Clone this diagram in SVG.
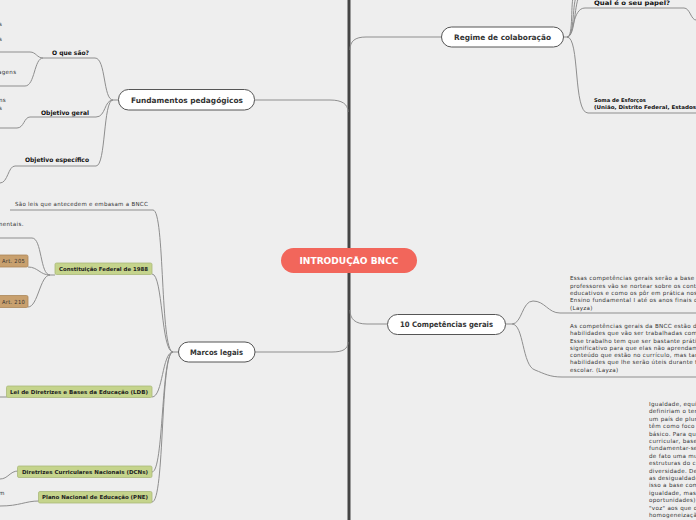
<svg xmlns="http://www.w3.org/2000/svg" width="696" height="520" viewBox="0 0 696 520">
<style>
.bg{fill:#eeeeee}
.c{fill:none;stroke:#8e8e8e;stroke-width:1}
.pill{fill:#ffffff;stroke:#555555;stroke-width:1}
.pt{font-family:"DejaVu Sans",Verdana,sans-serif;font-weight:bold;font-size:7.5px;fill:#333333;text-anchor:middle}
.sub{font-family:"DejaVu Sans",Verdana,sans-serif;font-weight:bold;font-size:6.2px;fill:#111111}
.sm{font-family:"DejaVu Sans",Verdana,sans-serif;font-size:5.6px;letter-spacing:0.3px;fill:#333333}
.smb{font-family:"DejaVu Sans",Verdana,sans-serif;font-weight:bold;font-size:5.2px;fill:#111111}
.gbox{fill:#c5d48c;stroke:#a9b97a;stroke-width:0.8}
.gt{font-family:"DejaVu Sans",Verdana,sans-serif;font-weight:bold;font-size:5.4px;fill:#222222}
.tbox{fill:#c8a06e;stroke:#ab8658;stroke-width:0.8}
</style>
<rect class="bg" x="0" y="0" width="696" height="520"/>
<rect x="347.5" y="0" width="3" height="520" fill="#444444"/>
<g id="connectors">
<path class="c" d="M255,100 L330,100 C342,100 348,104 348,112"/>
<path class="c" d="M255,352 L332,352 C343,352 348,349 348,342"/>
<path class="c" d="M350,50 C350,41 355,37 366,37 L441,37"/>
<path class="c" d="M350,310 C350,319 355,324 367,324 L387,324"/>
<path class="c" d="M118,100 L113,100 C103,100 106,58 95,58 L43,58"/>
<path class="c" d="M113,100 C104,100 106,117 96,117 L30,117"/>
<path class="c" d="M113,100 C103,100 106,166 96,166 L15,166"/>
<path class="c" d="M43,58 C37,58 36,52 30,52 L0,52"/>
<path class="c" d="M43,58 C34,58 35,86 25,86 L0,86"/>
<path class="c" d="M30,117 C24,117 24,128 17,128 L0,128"/>
<path class="c" d="M15,166 C8,166 8,183 0,183"/>
<path class="c" d="M178,352 L173,352 C160,352 165,210 153,210 L10,210"/>
<path class="c" d="M173,352 C161,352 163,274 152,274"/>
<path class="c" d="M173,352 C162,352 163,397 152,397"/>
<path class="c" d="M173,352 C161,352 164,472 152,472"/>
<path class="c" d="M173,352 C160,352 165,502 152,502"/>
<path class="c" d="M55,275 L50,275 C40,275 42,238 32,238 L0,238"/>
<path class="c" d="M50,275 C40,275 38,267 28,267"/>
<path class="c" d="M50,275 C40,275 38,307 28,307"/>
<path class="c" d="M7,397 L0,397"/>
<path class="c" d="M18,471 C10,471 8,479 0,479"/>
<path class="c" d="M39,501 C25,501 20,506 0,506"/>
<path class="c" d="M564,37 L567,37 C574,37 572,8 585,8 L684,8 C690,8 691,20 696,20"/>
<path class="c" d="M567,37 C574,37 570,0 574,-4"/>
<path class="c" d="M567,37 C575,37 572,0 577,-4"/>
<path class="c" d="M567,37 C576,37 574,0 580,-4"/>
<path class="c" d="M567,37 C580,37 573,113 588,113 L696,113"/>
<path class="c" d="M506,324 L512,324 C522,324 522,301 533,301 C545,301 548,313 560,313 L696,313"/>
<path class="c" d="M512,324 C524,324 522,366 535,370 C545,374 550,377 562,377 L696,377"/>
</g>
<g id="n-center">
<rect x="281" y="248" width="136" height="25" rx="12.5" fill="#f2665b"/>
<text x="349" y="264" font-family="DejaVu Sans,Verdana,sans-serif" font-weight="bold" font-size="8.5" fill="#ffffff" text-anchor="middle" textLength="99" lengthAdjust="spacingAndGlyphs">INTRODUÇÃO BNCC</text>
</g>
<g id="n-fundamentos">
<rect class="pill" x="118.5" y="89.5" width="136" height="20.5" rx="10"/>
<text class="pt" x="187" y="102.7" textLength="112" lengthAdjust="spacingAndGlyphs">Fundamentos pedagógicos</text>
</g>
<g id="n-marcos">
<rect class="pill" x="178.5" y="342" width="76.5" height="20" rx="10"/>
<text class="pt" x="216.5" y="354.7" textLength="53" lengthAdjust="spacingAndGlyphs">Marcos legais</text>
</g>
<g id="n-regime">
<rect class="pill" x="441.5" y="27" width="122" height="20" rx="10"/>
<text class="pt" x="502.5" y="39.7" textLength="97" lengthAdjust="spacingAndGlyphs">Regime de colaboração</text>
</g>
<g id="n-competencias">
<rect class="pill" x="387.5" y="314.5" width="118" height="20" rx="10"/>
<text class="pt" x="446.5" y="327" textLength="93" lengthAdjust="spacingAndGlyphs">10 Competências gerais</text>
</g>
<g id="n-oquesao"><text class="sub" x="52" y="54.5" textLength="37" lengthAdjust="spacingAndGlyphs">O que são?</text></g>
<g id="n-objgeral"><text class="sub" x="41" y="114.5" textLength="48" lengthAdjust="spacingAndGlyphs">Objetivo geral</text></g>
<g id="n-objesp"><text class="sub" x="25" y="161.5" textLength="64" lengthAdjust="spacingAndGlyphs">Objetivo específico</text></g>
<g id="n-frag">
<text class="sm" x="-1" y="26">s</text>
<text class="sm" x="-1" y="41">s</text>
<text class="sm" x="-2" y="74">agens</text>
<text class="sm" x="-1" y="102">ns</text>
<text class="sm" x="-1" y="110">s</text>
<text class="sm" x="-3" y="226">mentais.</text>
<text class="sm" x="-1" y="495">m</text>
</g>
<g id="n-saoleis"><text class="sm" x="15" y="206" textLength="133" lengthAdjust="spacingAndGlyphs">São leis que antecedem e embasam a BNCC</text></g>
<g id="n-cf88">
<rect class="gbox" x="55" y="263" width="97" height="11.5" rx="1.5"/>
<text class="gt" x="59" y="270.7" textLength="89" lengthAdjust="spacingAndGlyphs">Constituição Federal de 1988</text>
</g>
<g id="n-art205">
<rect class="tbox" x="-3" y="255" width="31" height="12" rx="1.5"/>
<text class="sm" x="2" y="263" textLength="23" lengthAdjust="spacingAndGlyphs">Art. 205</text>
</g>
<g id="n-art210">
<rect class="tbox" x="-3" y="295.5" width="31" height="12" rx="1.5"/>
<text class="sm" x="2" y="303.5" textLength="23" lengthAdjust="spacingAndGlyphs">Art. 210</text>
</g>
<g id="n-ldb">
<rect class="gbox" x="6.5" y="386" width="145.5" height="11.5" rx="1.5"/>
<text class="gt" x="10" y="393.7" textLength="138" lengthAdjust="spacingAndGlyphs">Lei de Diretrizes  e Bases da Educação (LDB)</text>
</g>
<g id="n-dcn">
<rect class="gbox" x="17.5" y="466" width="134.5" height="11.5" rx="1.5"/>
<text class="gt" x="22" y="473.7" textLength="126" lengthAdjust="spacingAndGlyphs">Diretrizes Curriculares Nacionais (DCNs)</text>
</g>
<g id="n-pne">
<rect class="gbox" x="38.5" y="491.5" width="113.5" height="11.5" rx="1.5"/>
<text class="gt" x="42" y="499.2" textLength="106" lengthAdjust="spacingAndGlyphs">Plano Nacional de Educação (PNE)</text>
</g>
<g id="n-papel"><text class="sub" x="594" y="4.5" font-size="7" textLength="76" lengthAdjust="spacingAndGlyphs">Qual é o seu papel?</text></g>
<g id="n-soma">
<text class="smb" x="594" y="101.5">Soma de Esforços</text>
<text class="smb" x="594" y="109" textLength="102" lengthAdjust="spacingAndGlyphs">(União, Distrito Federal, Estados</text>
</g>
<g id="n-comp1">
<text class="sm" x="570" y="280">Essas competências gerais serão a base c</text>
<text class="sm" x="570" y="287.5">professores vão se  nortear sobre os cont</text>
<text class="sm" x="570" y="295">educativos  e como os pôr em prática nos</text>
<text class="sm" x="570" y="302.3">Ensino fundamental I até os anos finais d</text>
<text class="sm" x="570" y="309.6">(Layza)</text>
</g>
<g id="n-comp2">
<text class="sm" x="570" y="328">As competências gerais da BNCC estão de</text>
<text class="sm" x="570" y="335.3">habilidades que vão ser trabalhadas com</text>
<text class="sm" x="570" y="342.5">Esse trabalho tem que ser bastante prátic</text>
<text class="sm" x="570" y="349.8">significativo para que elas não aprendam</text>
<text class="sm" x="570" y="357">conteúdo que estão no currículo, mas tam</text>
<text class="sm" x="570" y="364.3">habilidades que lhe serão úteis durante to</text>
<text class="sm" x="570" y="371.5">escolar. (Layza)</text>
</g>
<g id="n-igualdade">
<text class="sm" x="649" y="406">Igualdade, equi</text>
<text class="sm" x="649" y="413.4">definiriam o tem</text>
<text class="sm" x="649" y="420.8">um país de plur</text>
<text class="sm" x="649" y="428.2">têm como foco a</text>
<text class="sm" x="649" y="435.6">básico. Para que</text>
<text class="sm" x="649" y="443">curricular, baseu</text>
<text class="sm" x="649" y="450.4">fundamentar-se</text>
<text class="sm" x="649" y="457.8">de fato uma mu</text>
<text class="sm" x="649" y="465.2">estruturas do cu</text>
<text class="sm" x="649" y="472.6">diversidade. De</text>
<text class="sm" x="649" y="480">as desigualdade</text>
<text class="sm" x="649" y="487.4">isso a base com</text>
<text class="sm" x="649" y="494.8">igualdade, mas</text>
<text class="sm" x="649" y="502.2">oportunidades),</text>
<text class="sm" x="649" y="509.6">"voz" aos que o</text>
<text class="sm" x="649" y="517">homogeneizaçã</text>
</g>
</svg>
